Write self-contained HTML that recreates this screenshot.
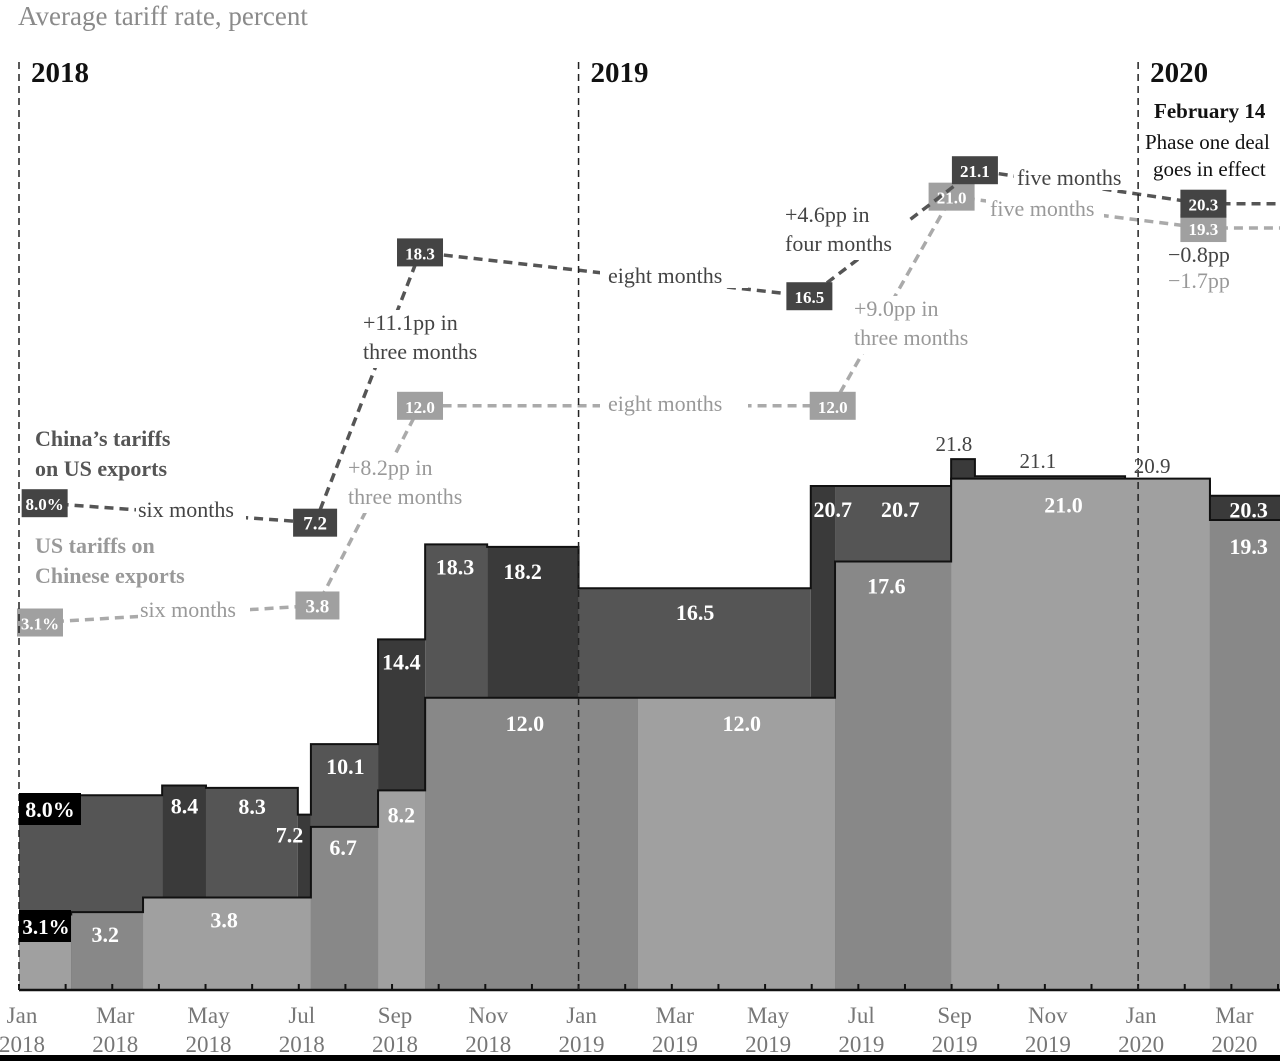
<!DOCTYPE html>
<html><head><meta charset="utf-8"><style>
html,body{margin:0;padding:0;background:#fff;}
svg{display:block;font-family:"Liberation Serif",serif;}
</style></head><body>
<svg id="chart" width="1280" height="1061" viewBox="0 0 1280 1061" xmlns="http://www.w3.org/2000/svg">
<text x="18" y="25" font-size="27" fill="#8a8a8a">Average tariff rate, percent</text>
<g id="bars"></g>
<g id="lines"></g>
<g id="annot"></g>
</svg>
<script>
// step segments: start month (0 = Jan 2018), value, shade
const chinaStarts=[0,3.07,4.01,5.98,6.26,7.70,8.71,10.04,12,16.98,17.5,19.99,20.5,23.72,25.54];
const chinaVals=[8.0,8.4,8.3,7.2,10.1,14.4,18.3,18.2,16.5,20.7,20.7,21.8,21.1,20.9,20.3];
const chinaShade=['#555','#3a3a3a','#555','#3a3a3a','#555','#3a3a3a','#555','#3a3a3a','#555','#3a3a3a','#555','#3a3a3a','#555','#555','#3a3a3a'];
const usStarts=[0,1.12,2.66,6.26,7.70,8.71,13.27,17.5,19.99,25.54];
const usVals=[3.1,3.2,3.8,6.7,8.2,12.0,12.0,17.6,21.0,19.3];
const usShade=['#a0a0a0','#888','#a0a0a0','#888','#a0a0a0','#888','#a0a0a0','#888','#a0a0a0','#888'];
const endMonth=27.05;
// dashed annotation lines: month position, value
const chinaLineM=[0.55,6.35,8.6,16.95,20.5,25.4,27.1];
const chinaLineV=[8.0,7.2,18.3,16.5,21.1,20.3,20.3];
const chinaLineLbl=['8.0%','7.2','18.3','16.5','21.1','20.3',''];
const usLineM=[0.45,6.4,8.6,17.45,20.0,25.4,27.1];
const usLineV=[3.1,3.8,12.0,12.0,21.0,19.3,19.3];
const usLineLbl=['3.1%','3.8','12.0','12.0','21.0','19.3',''];
const monthTicks=['Jan','Mar','May','Jul','Sep','Nov'];
const yearTicks=['2018','2019','2020'];
// display nudges (pixels) to avoid box overlap
const chinaNudge=[0,0,0,0,-14,0,0];
const usNudge=[0,0,0,0,10,0,0];

const NS='http://www.w3.org/2000/svg';
const X=m=>19+m*46.63;
const Y=v=>990-v*24.35;
const YL=v=>698-v*24.35;
function mk(tag,attrs,parent,txt){const e=document.createElementNS(NS,tag);for(const k in attrs)e.setAttribute(k,attrs[k]);if(txt!==undefined)e.textContent=txt;parent.appendChild(e);return e;}
const bars=document.getElementById('bars'),lines=document.getElementById('lines'),ann=document.getElementById('annot');

function drawSeries(starts,vals,shade,name){
  let d='';
  for(let i=0;i<starts.length;i++){
    const x0=X(starts[i]),x1=X(i+1<starts.length?starts[i+1]:endMonth);
    const r=mk('rect',{x:x0,y:Y(vals[i]),width:x1-x0,height:990-Y(vals[i]),fill:shade[i]},bars);
    
    
    d+=(i==0?'M':'L')+x0+','+Y(vals[i])+'L'+x1+','+Y(vals[i]);
  }
  const p=mk('path',{d:d,fill:'none',stroke:'#111','stroke-width':2},bars);
  
  
}
drawSeries(chinaStarts,chinaVals,chinaShade,'china-tariff');
drawSeries(usStarts,usVals,usShade,'us-tariff');
mk('line',{x1:19,y1:990,x2:1280,y2:990,stroke:'#111','stroke-width':2.5},bars);
for(let m=0;m<=27;m++){mk('line',{x1:X(m),y1:990,x2:X(m),y2:984,stroke:'#111','stroke-width':2},bars);}
for(let m=0;m<=26;m+=2){
  const g=mk('text',{x:X(m)+3,y:1023,'font-size':23,fill:'#777','text-anchor':'middle'},bars,monthTicks[(m/2)%6]);
  
  
  mk('text',{x:X(m)+3,y:1052,'font-size':23,fill:'#777','text-anchor':'middle'},bars,yearTicks[Math.floor(m/12)]);
}
mk('rect',{x:0,y:1055,width:1280,height:6,fill:'#000'},bars);
[0,12,24].forEach((m,i)=>{
  const l=mk('line',{x1:X(m),y1:62,x2:X(m),y2:990,stroke:'#222','stroke-width':1.5,'stroke-dasharray':'7 5'},ann);
  
  
  mk('text',{x:X(m)+12,y:82,'font-size':29,'font-weight':'bold',fill:'#111'},ann,yearTicks[i]);
});
function lbl(x,y,t,col,size,w){const e=mk('text',{x:x,y:y,'font-size':size||22,'font-weight':w||'bold',fill:col||'#fff','text-anchor':'middle'},ann,t);return e;}
mk('rect',{x:19,y:793,width:62,height:32,fill:'#000'},ann);
lbl(50,817,chinaVals[0].toFixed(1)+'%');
mk('rect',{x:19,y:910,width:52,height:32,fill:'#000'},ann);
lbl(46,934,usVals[0].toFixed(1)+'%',null,21);
lbl(X(3.55),Y(chinaVals[1])+28,chinaVals[1].toFixed(1));
lbl(X(5),Y(chinaVals[2])+26,chinaVals[2].toFixed(1));
lbl(X(5.8),Y(chinaVals[3])+28,chinaVals[3].toFixed(1));
lbl(X(7),Y(chinaVals[4])+30,chinaVals[4].toFixed(1));
lbl(X(8.2),Y(chinaVals[5])+30,chinaVals[5].toFixed(1));
lbl(X(9.35),Y(chinaVals[6])+30,chinaVals[6].toFixed(1));
lbl(X(10.8),Y(chinaVals[7])+32,chinaVals[7].toFixed(1));
lbl(X(14.5),Y(chinaVals[8])+32,chinaVals[8].toFixed(1));
lbl(X(17.45),Y(chinaVals[9])+31,chinaVals[9].toFixed(1));
lbl(X(18.9),Y(chinaVals[10])+31,chinaVals[10].toFixed(1));
lbl(X(20.05),Y(chinaVals[11])-8,chinaVals[11].toFixed(1),'#444',21,'normal');
lbl(X(21.85),Y(chinaVals[12])-8,chinaVals[12].toFixed(1),'#444',21,'normal');
lbl(X(24.3),Y(chinaVals[13])-8,chinaVals[13].toFixed(1),'#444',21,'normal');
lbl(X(26.37),Y(chinaVals[14])+22,chinaVals[14].toFixed(1));
lbl(X(1.85),Y(usVals[1])+30,usVals[1].toFixed(1));
lbl(X(4.4),Y(usVals[2])+30,usVals[2].toFixed(1));
lbl(X(6.95),Y(usVals[3])+28,usVals[3].toFixed(1));
lbl(X(8.2),Y(usVals[4])+32,usVals[4].toFixed(1));
lbl(X(10.85),Y(usVals[5])+33,usVals[5].toFixed(1));
lbl(X(15.5),Y(usVals[6])+33,usVals[6].toFixed(1));
lbl(X(18.6),Y(usVals[7])+32,usVals[7].toFixed(1));
lbl(X(22.4),Y(usVals[8])+34,usVals[8].toFixed(1));
lbl(X(26.37),Y(usVals[9])+34,usVals[9].toFixed(1));
function drawLine(M,V,L,N,col,boxCol,name){
  const pts=M.map((m,i)=>X(m)+','+(YL(V[i])+N[i])).join(' ');
  const pl=mk('polyline',{points:pts,fill:'none',stroke:col,'stroke-width':3.5,'stroke-dasharray':'9 6'},lines);
  
  
  for(let i=0;i<M.length;i++){ if(!L[i])continue;
    const w=L[i].length>3?46:44;
    const y=YL(V[i])+N[i];
    const b=mk('rect',{x:X(M[i])-w/2,y:y-14,width:w,height:28,fill:boxCol},lines);
    
    
    mk('text',{x:X(M[i]),y:y+7,'font-size':L[i].length>3?17:19,'font-weight':'bold',fill:'#fff','text-anchor':'middle'},lines,L[i]);
  }
}
drawLine(usLineM,usLineV,usLineLbl,usNudge,'#aaa','#a0a0a0','us-tariff');
drawLine(chinaLineM,chinaLineV,chinaLineLbl,chinaNudge,'#555','#444','china-tariff');
function at(x,y,t,col,w,size){const e=mk('text',{x:x,y:y,'font-size':size||22,fill:col,'font-weight':w||'normal'},ann,t);return e;}
function bg(x,y,w,h){mk('rect',{x:x,y:y,width:w,height:h,fill:'#fff'},ann);}
at(35,446,"China’s tariffs",'#555','bold');
at(35,476,"on US exports",'#555','bold');
at(35,553,"US tariffs on",'#999','bold');
at(35,583,"Chinese exports",'#999','bold');
bg(136,496,110,26);at(138,517,'six months','#444');
bg(138,596,112,26);at(140,617,'six months','#999');
bg(360,310,120,58);at(363,330,'+11.1pp in','#444');at(363,359,'three months','#444');
bg(345,455,120,58);at(348,475,'+8.2pp in','#999');at(348,504,'three months','#999');
bg(600,262,148,26);at(608,283,'eight months','#444');
bg(600,390,148,26);at(608,411,'eight months','#999');
bg(782,202,125,58);at(785,222,'+4.6pp in','#444');at(785,251,'four months','#444');
bg(851,296,125,58);at(854,316,'+9.0pp in','#999');at(854,345,'three months','#999');
bg(1014,164,118,26);at(1017,185,'five months','#444');
bg(986,196,118,26);at(990,216,'five months','#999');
at(1168,262,'−0.8pp','#444');at(1168,288,'−1.7pp','#999');
at(1154,118,'February 14','#111','bold',21);
at(1145,149,'Phase one deal','#111','normal',21);
at(1153,176,'goes in effect','#111','normal',21);
</script>
</body></html>
